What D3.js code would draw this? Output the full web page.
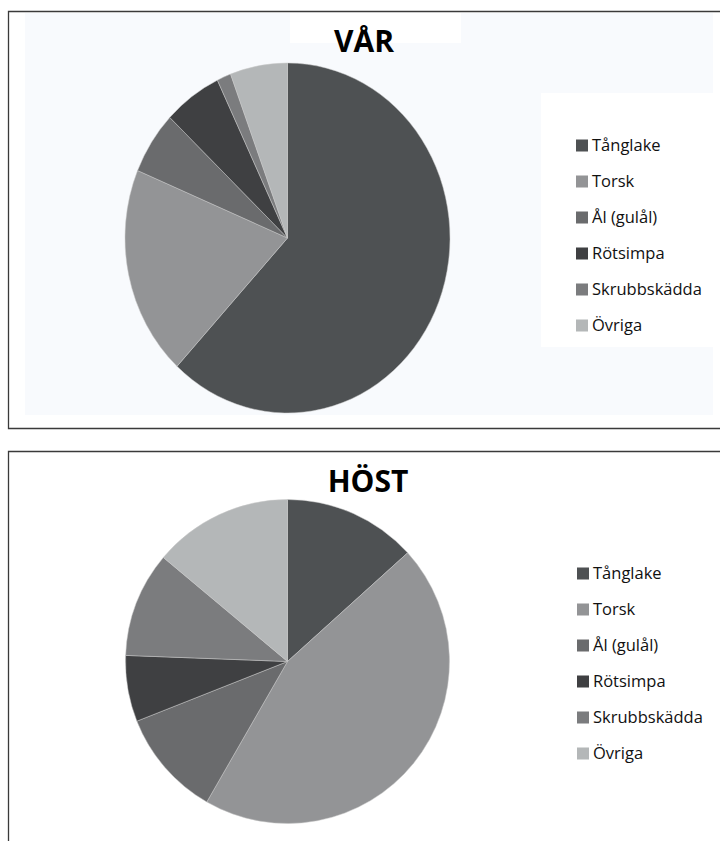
<!DOCTYPE html>
<html>
<head>
<meta charset="utf-8">
<script src="https://cdn.jsdelivr.net/npm/d3@7/dist/d3.min.js"></script>
<style>
  html, body { margin: 0; padding: 0; background: #ffffff; }
  svg { display: block; }
  text { font-family: "Open Sans", "Noto Sans", sans-serif; }
</style>
</head>
<body>
<svg id="chart" width="720" height="841"></svg>
<script>
// ---- Data ----
const categories = ["Tånglake", "Torsk", "Ål (gulål)", "Rötsimpa", "Skrubbskädda", "Övriga"];
const varValues  = [61.9, 19.4, 5.8, 5.8, 1.4, 5.7];
const hostValues = [13.3, 45.0, 10.7, 6.6, 10.5, 13.9];
const titles = ["VÅR", "HÖST"];
const colors = ["#4e5153", "#939496", "#6a6b6d", "#3f4042", "#7b7c7e", "#b4b7b8"];

const svg = d3.select("#chart");
const color = d3.scaleOrdinal().domain(categories).range(colors);

const panels = [
  { title: titles[0], values: varValues,
    frame: { x: 8.5, y: 11.5, w: 720, h: 417 },
    bg: { x: 25, y: 13, w: 688, h: 402, fill: "#f8fafd" },
    titleBox: { x: 290, y: 13, w: 171, h: 30 },
    titleX: 364, titleY: 52,
    legendBox: { x: 541, y: 93, w: 172, h: 254 },
    cx: 287.5, cy: 238, rx: 162.5, ry: 175,
    legX: 576, legY0: 145, legStep: 36 },
  { title: titles[1], values: hostValues,
    frame: { x: 8.5, y: 451.5, w: 720, h: 420 },
    bg: null,
    titleBox: null,
    titleX: 368, titleY: 492,
    legendBox: null,
    cx: 287.5, cy: 661.5, rx: 162, ry: 162,
    legX: 577, legY0: 573, legStep: 36 }
];

const pie = d3.pie().sort(null).value(d => d.v);

panels.forEach(p => {
  const g = svg.append("g");
  if (p.bg) {
    g.append("rect").attr("x", p.bg.x).attr("y", p.bg.y).attr("width", p.bg.w).attr("height", p.bg.h)
      .attr("fill", p.bg.fill);
  }
  if (p.titleBox) {
    g.append("rect").attr("x", p.titleBox.x).attr("y", p.titleBox.y)
      .attr("width", p.titleBox.w).attr("height", p.titleBox.h).attr("fill", "#ffffff");
  }
  if (p.legendBox) {
    g.append("rect").attr("x", p.legendBox.x).attr("y", p.legendBox.y)
      .attr("width", p.legendBox.w).attr("height", p.legendBox.h).attr("fill", "#ffffff");
  }
  // frame (left, top, bottom lines)
  g.append("path")
    .attr("d", `M${p.frame.x + p.frame.w},${p.frame.y} H${p.frame.x} V${p.frame.y + p.frame.h} H${p.frame.x + p.frame.w}`)
    .attr("fill", "none").attr("stroke", "#3a3a3a").attr("stroke-width", 1.3);

  const data = categories.map((c, i) => ({ c, v: p.values[i] }));
  const arcs = pie(data);
  const arc = d3.arc().innerRadius(0).outerRadius(p.rx);
  const pg = g.append("g")
    .attr("transform", `translate(${p.cx},${p.cy}) scale(1,${p.ry / p.rx})`);
  pg.selectAll("path").data(arcs).enter().append("path")
    .attr("d", arc)
    .attr("fill", d => color(d.data.c))
    .attr("stroke", "#c8c8c8")
    .attr("stroke-width", 0.5)
    .attr("vector-effect", "non-scaling-stroke");

  g.append("text")
    .attr("x", p.titleX).attr("y", p.titleY)
    .attr("text-anchor", "middle")
    .attr("font-size", 30).attr("font-weight", 700)
    .attr("fill", "#000")
    .text(p.title);

  const leg = g.selectAll("g.leg").data(categories).enter().append("g")
    .attr("transform", (d, i) => `translate(${p.legX},${p.legY0 + i * p.legStep})`);
  leg.append("rect").attr("x", 0).attr("y", -5.5).attr("width", 12).attr("height", 12)
    .attr("fill", d => color(d));
  leg.append("text").attr("x", 16).attr("y", 6)
    .attr("font-size", 16.5).attr("fill", "#111")
    .text(d => d);
});
</script>
</body>
</html>
